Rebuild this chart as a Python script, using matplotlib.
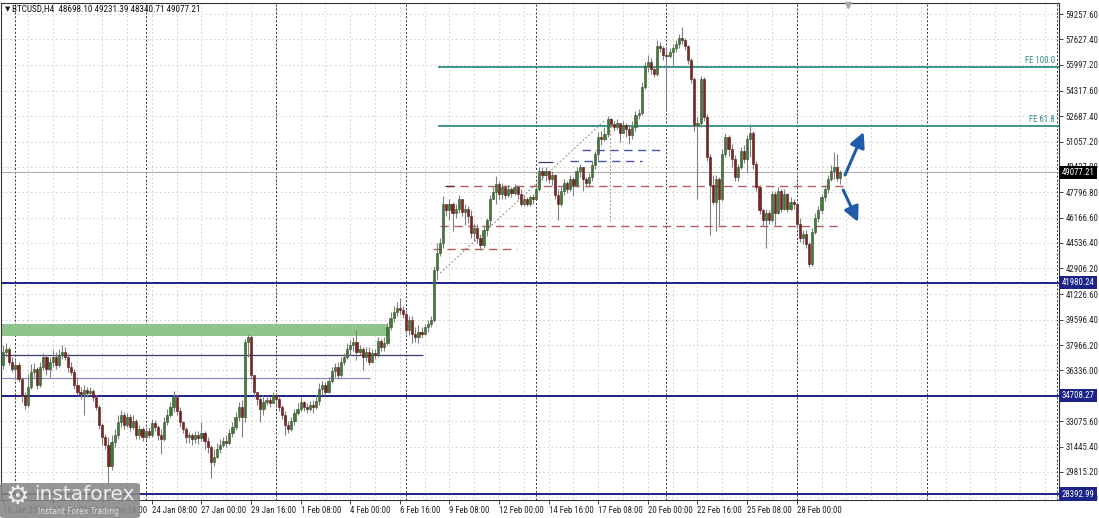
import matplotlib
matplotlib.use("Agg")
import numpy as np
import matplotlib.pyplot as plt
from matplotlib import font_manager
from matplotlib.patches import FancyBboxPatch
from matplotlib.transforms import blended_transform_factory

# ---- BTCUSD H4 candles (16 Jan 2021 08:00 ... 2 Mar 2021 08:00) ----
first_open = 36670.0
closes = [
    37500, 37690, 36860, 36420, 36670, 35780, 34760, 34120, 35270, 36230,
    36420, 35400, 36550, 37180, 36420, 36860, 37180, 36670, 37310, 37500,
    37180, 36550, 36230, 35400, 34950, 34820, 35080, 34890, 35010, 34630,
    33990, 32850, 32080, 31570, 30170, 31760, 32210, 33040, 33480, 32850,
    33360, 32720, 33100, 32210, 32590, 32080, 32460, 32210, 32970, 32720,
    32210, 31950, 33040, 33480, 33990, 34630, 33740, 33040, 32590, 32080,
    32210, 31950, 32210, 32020, 32330, 31820, 31440, 30480, 30800, 31310,
    31570, 31820, 31700, 32330, 32720, 33360, 33990, 33360, 38140, 38460,
    36040, 34950, 34500, 33870, 34310, 34440, 34250, 34760, 34500, 33990,
    33480, 32850, 32590, 33100, 33610, 33870, 34310, 33990, 33870, 34120,
    33990, 34380, 35140, 35400, 34950, 35650, 36290, 36550, 36040, 36860,
    37180, 37690, 37950, 38140, 37500, 37690, 37180, 37500, 36860, 37440,
    37310, 38200, 37820, 38080, 39100, 39740, 40120, 40370, 40250, 39990,
    38970, 39610, 38710, 38460, 38840, 38710, 39100, 39350, 39610, 42800,
    43880, 44520, 47070, 46630, 47070, 46430, 46750, 47390, 46500, 46750,
    46240, 45160, 45480, 44840, 44390, 45350, 45990, 47390, 47840, 48350,
    47710, 48160, 47650, 48030, 47770, 48160, 47710, 47070, 47390, 47070,
    47520, 47390, 48030, 49180, 48920, 49180, 48670, 48920, 47650, 47070,
    47900, 48410, 48030, 48670, 48280, 49180, 49430, 48670, 48410, 48800,
    49560, 50260, 51350, 51220, 51540, 52500, 52180, 51990, 52240, 51600,
    52110, 51860, 51470, 51990, 52750, 52880, 54540, 55940, 56200, 55690,
    55430, 57220, 57090, 56640, 56580, 56830, 57090, 57340, 57730, 57600,
    57220, 56320, 55050, 52110, 52240, 55050, 52620, 50070, 48280, 47200,
    48670, 47390, 50260, 51350, 50580, 49940, 48800, 49430, 50450, 49940,
    51220, 51600, 49620, 48160, 46630, 45990, 46430, 45990, 47710, 46430,
    47900, 46750, 47710, 46750, 47200, 47010, 45730, 44840, 45090, 44460,
    43180, 45220, 46120, 46630, 47520, 48030, 48670, 49180, 49430, 48698.10,
    49077.21,
]
highs = [
    37950, 38080, 37820, 37180, 37060, 36860, 35910, 34950, 36100, 36740,
    36800, 36550, 36860, 37440, 37310, 37180, 37630, 37500, 37690, 37950,
    37820, 37440, 36860, 36420, 35910, 35270, 35400, 35270, 35270, 35140,
    34760, 34120, 32970, 32270, 32080, 32210, 32590, 33480, 33800, 33670,
    33610, 33550, 33480, 33230, 32850, 32720, 32720, 32720, 33230, 33160,
    32850, 32590, 33360, 33870, 34310, 35010, 34760, 33990, 33100, 32720,
    32400, 32330, 32460, 32460, 33040, 32460, 32080, 31570, 31310, 31700,
    31950, 32080, 32210, 32590, 33040, 33670, 34310, 34440, 38330, 38650,
    38590, 36040, 34950, 34630, 34760, 34760, 34630, 34950, 34890, 34630,
    34120, 33740, 33100, 33360, 33870, 34250, 34630, 34380, 34250, 34380,
    34440, 34760, 35520, 35650, 35590, 35910, 36550, 36800, 36860, 37180,
    37440, 38080, 38270, 38460, 38910, 37950, 37820, 37820, 37820, 37690,
    37690, 38460, 38330, 38460, 39420, 40120, 40500, 40760, 41010, 40500,
    40250, 39860, 39860, 39100, 39230, 39100, 39350, 39610, 39860, 43050,
    44520, 44840, 47580, 47070, 47390, 47200, 47070, 47650, 47390, 47070,
    46940, 46630, 45800, 45730, 45030, 45610, 46120, 47650, 48160, 48860,
    48540, 48410, 48280, 48280, 48160, 48350, 48280, 48030, 47650, 47520,
    47650, 47710, 48280, 49430, 49430, 49430, 49180, 49180, 49000, 48030,
    48160, 48670, 48540, 48920, 48800, 49430, 49620, 49430, 48800, 49050,
    49820, 50450, 51670, 51730, 51990, 52690, 52560, 52370, 52500, 52240,
    52370, 52240, 52110, 52370, 53010, 53130, 54860, 56200, 56640, 56450,
    55940, 57600, 57470, 57220, 57150, 57090, 57340, 57600, 57980, 58430,
    57730, 57280, 56450, 55180, 52620, 55300, 55180, 52810, 50260, 48920,
    48920, 48800, 50580, 51600, 51470, 50900, 50200, 49620, 50710, 50840,
    51470, 52180, 51730, 49820, 48280, 46750, 46750, 46630, 47900, 47900,
    48160, 48030, 48030, 47770, 47520, 47390, 47140, 46120, 45350, 45350,
    44580, 45480, 46430, 46880, 47710, 48280, 48920, 49560, 50390, 50260,
    49231.39,
]
lows = [
    36420, 37180, 36670, 36230, 35720, 35590, 34310, 33870, 33990, 35140,
    35910, 35140, 35270, 36350, 36040, 35910, 36550, 36420, 36550, 37060,
    36990, 36230, 36040, 35140, 34760, 34500, 33480, 34630, 34760, 34380,
    33800, 32590, 31570, 31310, 29080, 29910, 31440, 31950, 32720, 32590,
    32720, 32460, 32590, 31950, 31950, 31820, 31890, 32020, 32080, 32460,
    31890, 30990, 31820, 32850, 33360, 33670, 33480, 32720, 32330, 31700,
    31700, 31570, 31700, 31630, 31820, 31310, 31060, 29400, 30170, 30680,
    31060, 31440, 31440, 31570, 32080, 32530, 33100, 32080, 33040, 37180,
    35780, 34630, 34120, 33040, 33480, 34120, 33990, 34250, 34120, 33740,
    33230, 32210, 32330, 32460, 32850, 33480, 33740, 33740, 33610, 33740,
    33610, 33870, 34120, 34760, 34760, 34890, 35520, 35910, 35780, 35910,
    36670, 37060, 37310, 37570, 36990, 37310, 36350, 36930, 36670, 36800,
    37060, 37180, 37570, 37570, 37950, 38970, 39480, 39860, 39990, 39740,
    38710, 38590, 38080, 38140, 38080, 38460, 38590, 38840, 39100, 39480,
    42160, 43690, 44200, 46240, 45990, 45290, 46120, 46430, 46240, 45670,
    45800, 44840, 44650, 44520, 44070, 44200, 44970, 45610, 47390, 47010,
    47390, 47390, 47390, 47520, 47520, 47650, 47390, 46880, 46940, 46880,
    46940, 47070, 47330, 47900, 48600, 48540, 48410, 48280, 47390, 45990,
    46880, 47650, 47770, 47900, 47580, 48160, 48800, 47900, 48160, 48160,
    48540, 49310, 49820, 50840, 51090, 51350, 51990, 51730, 51860, 51030,
    51600, 51350, 50900, 51220, 51730, 52500, 52750, 54410, 55560, 55370,
    55180, 55300, 56830, 56320, 53130, 56450, 56000, 56830, 57090, 57340,
    56960, 56070, 54790, 51730, 47390, 51990, 52370, 49820, 45030, 47010,
    45290, 45670, 47260, 50070, 50130, 49430, 48540, 48540, 49310, 49690,
    49110, 50070, 49310, 47900, 46370, 45610, 44200, 45730, 45860, 45670,
    46370, 46500, 46630, 46500, 46630, 46750, 45480, 44580, 44460, 44200,
    42990, 43050, 45090, 45860, 46370, 47260, 47770, 48540, 48670, 48540,
    48340.71,
]

# x axis labels (every 16 bars)
date_labels = ["16 Jan 2021", "19 Jan 00:00", "21 Jan 16:00", "24 Jan 08:00",
               "27 Jan 00:00", "29 Jan 16:00", "1 Feb 08:00", "4 Feb 00:00",
               "6 Feb 16:00", "9 Feb 08:00", "12 Feb 00:00", "14 Feb 16:00",
               "17 Feb 08:00", "20 Feb 00:00", "22 Feb 16:00", "25 Feb 08:00",
               "28 Feb 00:00"]
# price scale labels (the 34705.80 one sits under the 34708.27 marker)
price_ticks = [59257.60, 57627.40, 55997.20, 54317.60, 52687.40, 51057.20,
               49427.00, 47796.80, 46166.60, 44536.40, 42906.20, 41226.60,
               39596.40, 37966.20, 36336.00, 34705.80, 33075.60, 31445.40,
               29815.20, 28185.00]
price_tick_labels = [f"{p:.2f}" for p in price_ticks]
price_tick_labels[15] = ""

# drawn objects (price levels)
blue_levels = [41980.24, 34708.27, 28392.99]
fe_levels = [55850, 52056]
fe_names = ["FE 100.0", "FE 61.8"]
zone = (38553, 39325)
dashed_red = [(48198, 143, 273), (45626, 141, 271), (44148, 138.7, 165.8)]
dashed_blue = [(50513, 186.8, 212.6), (49806, 183, 206)]
thin_lines = [(37331, 0, 135.5, "#3a3a70"), (35833, 0, 118.4, "#8a8ab8")]
arrows = [((271.6, 48905), (277.6, 51670)), ((271.0, 47941), (275.8, 45883))]

# ---------------------------------------------------------------
# pick a narrow font if one is installed, otherwise a small Liberation Sans
small_font, fs = "Liberation Sans", 5.4
names = {f.name for f in font_manager.fontManager.ttflist}
for cand in ["Liberation Sans Narrow", "Roboto Condensed", "Open Sans Condensed",
             "DejaVu Sans Condensed"]:
    if cand in names:
        small_font, fs = cand, 6.3
        break

W, H = 1099, 518
fig = plt.figure(figsize=(W / 100, H / 100), dpi=100, facecolor="white")
ax = fig.add_axes([1 / W, (H - 500) / H, 1058 / W, 497 / H])

n = len(closes)
idx = np.arange(n)
o = np.array([first_open] + closes[:-1], dtype=float)
c = np.array(closes, dtype=float)
up = c >= o

ax.set_xlim(-0.65, 340.6)
ax.set_ylim(28008, 59965)

# grid
for k in range(8, 345, 8):
    ax.axvline(k, color="#c9c9c9", lw=0.6, ls=(0, (2, 3)), zorder=0)
for k in range(4, 345, 42):
    ax.axvline(k, color="#333333", lw=0.7, ls=(0, (2, 2)), zorder=0.5)
for p in price_ticks:
    ax.axhline(p, color="#c9c9c9", lw=0.6, ls=(0, (2, 3)), zorder=0)

# zone and levels
ax.fill_between([-1, 124], zone[0], zone[1], color="#8fc48b", zorder=1, lw=0)
for p, x0, x1, col in thin_lines:
    ax.hlines(p, x0 - 1, x1, color=col, lw=0.9, zorder=1.5)
for p in blue_levels:
    ax.axhline(p, color="#1c2388", lw=1.4, zorder=1.5)
ax.axhline(closes[-1], color="#a8a8a8", lw=0.7, zorder=1.2)
for p, name in zip(fe_levels, fe_names):
    ax.hlines(p, 140.3, 341, color="#2f8d86", lw=1.3, zorder=1.5)
    ax.text(0.996, p + 120, name, transform=blended_transform_factory(ax.transAxes, ax.transData),
            ha="right", va="bottom", fontsize=fs, color="#2f8d86", family=small_font)
for p, x0, x1 in dashed_red:
    ax.hlines(p, x0, x1, color="#b06060", lw=1.0, ls=(0, (6, 4)), zorder=1.5)
for p, x0, x1 in dashed_blue:
    ax.hlines(p, x0, x1, color="#4a56a8", lw=1.0, ls=(0, (6, 4)), zorder=1.5)
ax.hlines(49741, 172.6, 177.5, color="#3a3a70", lw=0.9, zorder=1.5)
ax.hlines(48198, 142.5, 145.5, color="#5a2a2a", lw=0.9, zorder=1.5)
ax.plot([141, 194.2], [42604, 52442], color="#8c8c8c", lw=0.8, ls=(0, (1.5, 2)), zorder=1.5)
ax.vlines(195.8, 45948, 52700, color="#c88080", lw=0.8, ls=(0, (1.5, 2)), zorder=1.5)

# candles
ax.vlines(idx, lows, highs, color="#808080", lw=0.8, zorder=3)
ax.bar(idx, np.abs(c - o), bottom=np.minimum(o, c), width=0.7,
       color=np.where(up, "#46763c", "#7a2424"),
       edgecolor=np.where(up, "#2f5528", "#581818"), lw=0.4, zorder=4)

# arrows
for (x0, y0), (x1, y1) in arrows:
    ax.annotate("", xy=(x1, y1), xytext=(x0, y0),
                arrowprops=dict(arrowstyle="-|>,head_length=0.9,head_width=0.45",
                                color="#1f5ca8", lw=2.2, shrinkA=0, shrinkB=0), zorder=6)

# axes styling
for s in ax.spines.values():
    s.set_color("#333333")
    s.set_linewidth(0.8)
ax.yaxis.tick_right()
ax.set_yticks(price_ticks)
ax.set_yticklabels(price_tick_labels, fontsize=fs, family=small_font)
ax.tick_params(axis="y", length=3, width=0.6, pad=1.5, colors="#222222")
ax.set_xticks(np.arange(0, 16 * len(date_labels), 16))
ax.set_xticklabels(date_labels, fontsize=fs, family=small_font, ha="left")
ax.tick_params(axis="x", length=3, width=0.6, pad=1.5, colors="#222222")

# price markers on the scale
bt = blended_transform_factory(ax.transAxes, ax.transData)
for p in blue_levels:
    ax.text(1.0025, p, f"{p:.2f}", transform=bt, ha="left", va="center", fontsize=fs,
            family=small_font, color="white", zorder=10, clip_on=False,
            bbox=dict(boxstyle="square,pad=0.25", fc="#1c2388", ec="none"))
ax.text(1.0025, closes[-1], f"{closes[-1]:.2f}", transform=bt, ha="left", va="center",
        fontsize=fs, family=small_font, color="white", zorder=10, clip_on=False,
        bbox=dict(boxstyle="square,pad=0.25", fc="black", ec="none"))

# header
fig.text(5 / W, 1 - 9 / H, "▼", fontsize=5, color="#222222", va="center")
fig.text(12 / W, 1 - 9 / H,
         f"BTCUSD,H4  {o[-1]:.2f} {highs[-1]:.2f} {lows[-1]:.2f} {closes[-1]:.2f}",
         fontsize=fs + 0.3, family=small_font, color="#111111", va="center")
ax.plot([0.8006], [0.995], marker="v", ms=5, color="#a8a8a8", transform=ax.transAxes,
        clip_on=False, zorder=7)

# watermark
fig.patches.append(FancyBboxPatch((0, 0), 140 / W, 35 / H, transform=fig.transFigure,
                                  boxstyle="round,pad=0,rounding_size=0.004",
                                  fc="#878787", ec="none", alpha=0.88, zorder=20))
fig.text(6 / W, (H - 497) / H, "⚙", fontsize=19, color="#ececec", va="center", zorder=21)
fig.text(34 / W, (H - 495) / H, "instaforex", fontsize=14.5, color="#eeeeee",
         va="center", zorder=21)
fig.text(38 / W, (H - 511) / H, "Instant Forex Trading", fontsize=5.5, color="#dddddd",
         va="center", zorder=21)

fig.savefig("out.png", dpi=100, facecolor="white")
